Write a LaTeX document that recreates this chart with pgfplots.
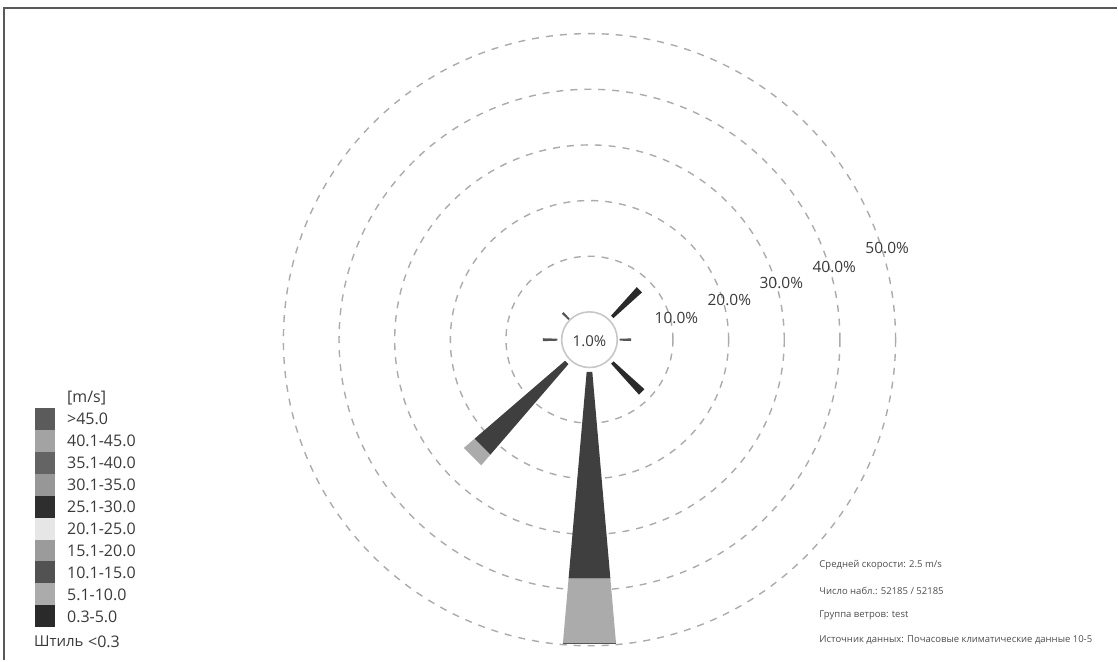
\documentclass[border=0pt]{standalone}
\usepackage{fontspec}
\setmainfont{Open Sans}
\usepackage{pgfplots}
\pgfplotsset{compat=1.18}
\definecolor{ringc}{HTML}{ABABAB}
\definecolor{cA}{HTML}{5B5B5B}
\definecolor{cB}{HTML}{A3A3A3}
\definecolor{cC}{HTML}{646464}
\definecolor{cD}{HTML}{979797}
\definecolor{cE}{HTML}{2E2E2E}
\definecolor{cF}{HTML}{E6E6E6}
\definecolor{cG}{HTML}{9B9B9B}
\definecolor{cH}{HTML}{525252}
\definecolor{cI}{HTML}{ABABAB}
\definecolor{cJ}{HTML}{2A2A2A}
\definecolor{txt}{HTML}{3A3A3A}
\begin{document}
\begin{tikzpicture}
\begin{axis}[hide axis, scale only axis, width=1118pt, height=661pt,
  xmin=-105.92, xmax=94.79, ymin=-57.63, ymax=61.04,
  clip=false, anchor=south west, at={(0pt,0pt)}]
\path (rel axis cs:0,0) rectangle (rel axis cs:1,1);
% dashed rings (10%..50%), radius = 5 + percent
\pgfplotsinvokeforeach{15,25,35,45,55}{
  \draw[ringc, line width=1.4pt, dash pattern=on 7pt off 7pt] (axis cs:0,0) circle[radius=#1];
}
% S : 0.3-5.0 and 5.1-10.0
\addplot[fill=cJ!90!white, draw=none, data cs=polar] coordinates {(-95,5.8) (-85,5.8) (-85,43.1) (-95,43.1)} -- cycle;
\addplot[fill=cI, draw=none, data cs=polar] coordinates {(-95,43.1) (-85,43.1) (-85,54.8) (-95,54.8)} -- cycle;
\addplot[draw=cJ!80, line width=1pt, data cs=polar] coordinates {(-95,54.8) (-85,54.8)};
% SW
\addplot[fill=cJ!90!white, draw=none, data cs=polar] coordinates {(-139.25,5.8) (-130.75,5.8) (-130.75,27.3) (-139.25,27.3)} -- cycle;
\addplot[fill=cI, draw=none, data cs=polar] coordinates {(-139.25,27.3) (-130.75,27.3) (-130.75,29.8) (-139.25,29.8)} -- cycle;
% NE
\addplot[fill=cJ, draw=none, data cs=polar] coordinates {(42,5.8) (48,5.8) (48,12.7) (42,12.7)} -- cycle;
% SE
\addplot[fill=cJ, draw=none, data cs=polar] coordinates {(-48,5.8) (-42,5.8) (-42,13.3) (-48,13.3)} -- cycle;
% W
\addplot[fill=cJ!80!white, draw=none, data cs=polar] coordinates {(178.2,5.75) (181.8,5.75) (181.8,8.4) (178.2,8.4)} -- cycle;
% E
\addplot[fill=cJ!80!white, draw=none, data cs=polar] coordinates {(-1.8,5.4) (1.8,5.4) (1.8,7.5) (-1.8,7.5)} -- cycle;
% NW
\addplot[fill=cJ!80!white, draw=none, data cs=polar] coordinates {(133.2,5.2) (136.8,5.2) (136.8,6.8) (133.2,6.8)} -- cycle;
% calm circle
\draw[black!22, line width=1.6pt, fill=white] (axis cs:0,0) circle[radius=5];
\end{axis}
\begin{scope}[x=1pt, y=-1pt, shift={(0pt,661pt)}]
\draw[black!65, line width=2pt] (4,661) -- (4,8) -- (1118,8);
\node[font=\fontsize{15}{18}\selectfont, text=txt] at (590,341) {1.0\%};
\node[font=\fontsize{15.5}{18}\selectfont, text=txt] at (677,318) {10.0\%};
\node[font=\fontsize{15.5}{18}\selectfont, text=txt] at (730,300) {20.0\%};
\node[font=\fontsize{15.5}{18}\selectfont, text=txt] at (782,283) {30.0\%};
\node[font=\fontsize{15.5}{18}\selectfont, text=txt] at (835,267) {40.0\%};
\node[font=\fontsize{15.5}{18}\selectfont, text=txt] at (888,248) {50.0\%};
% legend
\fill[cA] (35,408) rectangle (55,430);
\fill[cB] (35,430) rectangle (55,452);
\fill[cC] (35,452) rectangle (55,474);
\fill[cD] (35,474) rectangle (55,496);
\fill[cE] (35,496) rectangle (55,518);
\fill[cF] (35,518) rectangle (55,540);
\fill[cG] (35,540) rectangle (55,562);
\fill[cH] (35,562) rectangle (55,584);
\fill[cI] (35,584) rectangle (55,606);
\fill[cJ] (35,606) rectangle (55,628);
\begin{scope}[every node/.style={font=\fontsize{16}{19}\selectfont, text=txt, anchor=west, inner sep=0pt}]
\node at (67,398) {[m/s]};
\node at (67,419) {>45.0};
\node at (67,441) {40.1-45.0};
\node at (67,463) {35.1-40.0};
\node at (67,485) {30.1-35.0};
\node at (67,507) {25.1-30.0};
\node at (67,529) {20.1-25.0};
\node at (67,551) {15.1-20.0};
\node at (67,573) {10.1-15.0};
\node at (67,595) {5.1-10.0};
\node at (67,617) {0.3-5.0};
\node[font=\fontsize{15}{18}\selectfont] at (34,642) {Штиль};
\node at (88,642) {<0.3};
\end{scope}
\begin{scope}[every node/.style={font=\fontsize{9.5}{11}\selectfont, text=black!70, anchor=west, inner sep=0pt}]
\node at (820,566) {Средней скорости: 2.5 m/s};
\node at (820,591) {Число набл.: 52185 / 52185};
\node at (820,616) {Группа ветров: test};
\node at (820,641) {Источник данных: Почасовые климатические данные 10-5};
\end{scope}
\end{scope}
\end{tikzpicture}
\end{document}
